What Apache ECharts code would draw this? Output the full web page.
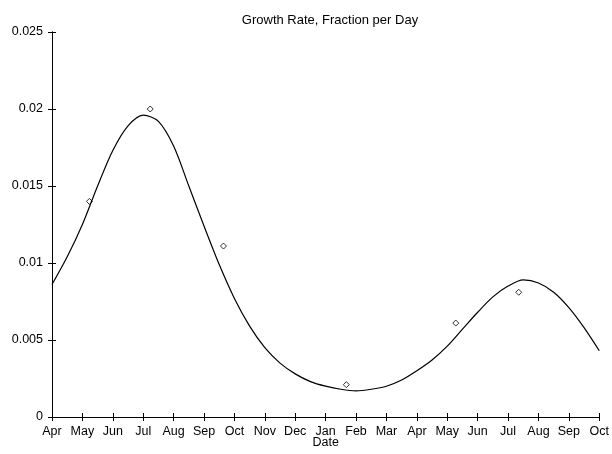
<!DOCTYPE html>
<html><head><meta charset="utf-8">
<script src="https://cdn.jsdelivr.net/npm/echarts@6/dist/echarts.min.js"></script>
<style>html,body{margin:0;padding:0;background:#fff}#c{width:612px;height:454px}</style>
</head><body><div id="c"></div>
<script>
// Month tick labels (x = months since first April)
var monthLabels = ['Apr','May','Jun','Jul','Aug','Sep','Oct','Nov','Dec','Jan','Feb','Mar','Apr','May','Jun','Jul','Aug','Sep','Oct'];
// Fitted curve (month offset, growth rate)
var curveX = [0,0.5,1,1.5,2,2.5,3,3.5,4,4.5,5,5.5,6,6.5,7,7.5,8,8.5,9,9.5,10,10.5,11,11.5,12,12.5,13,13.5,14,14.5,15,15.5,16,16.5,17,17.5,18];
var curveY = [0.0086,0.0104,0.0125,0.0150,0.0173,0.0189,0.0196,0.0192,0.0176,0.0150,0.0124,0.0099,0.0077,0.0059,0.0045,0.0035,0.0028,0.0023,0.0020,0.0018,0.0017,0.0018,0.0020,0.0024,0.0030,0.0037,0.0046,0.0057,0.0068,0.0078,0.0085,0.0089,0.0087,0.0081,0.0071,0.0058,0.0043];
// Observed points
var obsX = [1.23,3.23,5.64,9.68,13.28,15.35];
var obsY = [0.0140,0.0200,0.0111,0.0021,0.0061,0.0081];

var curve = curveX.map(function(x,i){return [x,curveY[i]];});
var obs = obsX.map(function(x,i){return [x,obsY[i]];});

var font = 'Liberation Sans, Arial, Helvetica, sans-serif';
var chart = echarts.init(document.getElementById('c'));
var axLine = {show:true, lineStyle:{color:'#000', width:1}};
var tick = {show:true, inside:true, length:4, lineStyle:{color:'#000'}};
chart.setOption({
  animation:false,
  title:{text:'Growth Rate, Fraction per Day', left:325, textAlign:'center', top:9,
    textStyle:{fontFamily:font, fontSize:13, fontWeight:'normal', color:'#000'}},
  grid:{left:52, right:8, top:32, bottom:30},
  xAxis:[{type:'value', min:0, max:18, interval:1, position:'bottom',
    name:'Date', nameLocation:'middle', nameGap:19, nameMoveOverlap:false,
    nameTextStyle:{fontFamily:font, fontSize:12.5, color:'#000'},
    axisLine:axLine, axisTick:tick, splitLine:{show:false},
    axisLabel:{fontFamily:font, fontSize:12.5, color:'#000', margin:8,
      formatter:function(v){return monthLabels[Math.round(v)];}}},
   {type:'value', min:0, max:18, interval:1, position:'top',
    axisLine:axLine, axisTick:tick, splitLine:{show:false}, axisLabel:{show:false}}],
  yAxis:[{type:'value', min:0, max:0.025, interval:0.005, position:'left',
    axisLine:axLine, axisTick:tick, splitLine:{show:false},
    axisLabel:{fontFamily:font, fontSize:12.5, color:'#000', margin:9}},
   {type:'value', min:0, max:0.025, interval:0.005, position:'right',
    axisLine:axLine, axisTick:tick, splitLine:{show:false}, axisLabel:{show:false}}],
  series:[
    {type:'line', data:curve, smooth:0.3, showSymbol:false, symbol:'none',
     lineStyle:{color:'#000', width:1.2}},
    {type:'scatter', data:obs, symbol:'diamond', symbolSize:6,
     itemStyle:{color:'#fff', borderColor:'#000', borderWidth:1}}
  ]
});
</script></body></html>
